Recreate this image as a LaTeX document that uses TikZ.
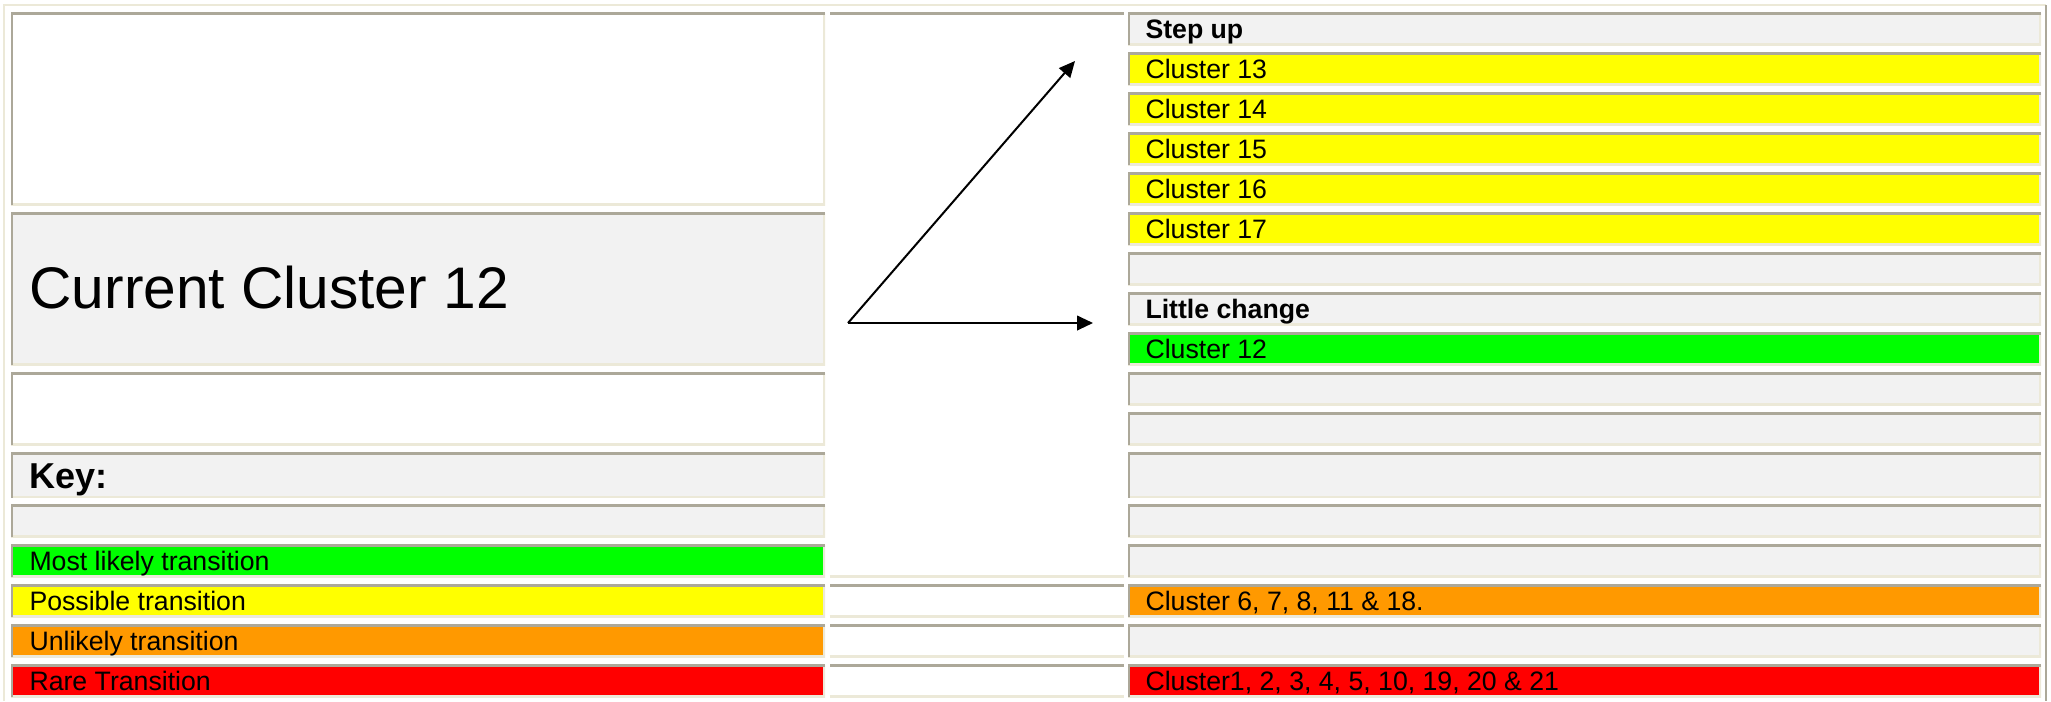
\documentclass[tikz,border=0pt]{standalone}
\usepackage{fontspec}
\setmainfont{Liberation Sans}
\usetikzlibrary{arrows.meta}

\definecolor{edgedark}{RGB}{172,168,153}
\definecolor{edgelight}{RGB}{236,233,216}
\definecolor{cellgray}{RGB}{242,242,242}
\definecolor{likely}{RGB}{0,255,0}
\definecolor{possible}{RGB}{255,255,0}
\definecolor{unlikely}{RGB}{255,153,0}
\definecolor{rare}{RGB}{255,0,0}

\tikzset{every picture/.style={line width=0.75pt},
  cell/.style={fill=#1, path picture={
      \draw [edgelight, line width=3pt] (path picture bounding box.south west) -| (path picture bounding box.north east);
      \draw [edgedark, line width=3pt] (path picture bounding box.south west) |- (path picture bounding box.north east);}},
  cell/.default=white,
  midcell/.style={fill=white, path picture={
      \draw [edgelight, line width=3pt] (path picture bounding box.south west) -- (path picture bounding box.south east);
      \draw [edgedark, line width=3pt] (path picture bounding box.north west) -- (path picture bounding box.north east);}},
  lbl/.style={anchor=base west, inner sep=0pt, font=\fontsize{20pt}{24pt}\selectfont},
  flow/.style={line width=1.5pt, -{Triangle[length=12pt,width=11pt]}}}

\begin{document}
\begin{tikzpicture}[x=0.75pt,y=0.75pt,yscale=-1,xscale=1]
\useasboundingbox (0,0) rectangle (2051,701);

%Shape: Table frame
\draw [edgelight, line width=1.5pt] (4,701) -- (4,5) -- (2046,5) ;
\draw [edgedark, line width=1.5pt] (2046,5) -- (2046,701) ;

%Shape: Rectangle (left column)
\path [cell] (11,12.5) rectangle (825,205.2) ;
\path [cell=cellgray] (11,212.5) rectangle (825,365.2) ;
\path [cell] (11,372.5) rectangle (825,445.2) ;
\path [cell=cellgray] (11,452.5) rectangle (825,497.7) ;
\path [cell=cellgray] (11,504.5) rectangle (825,537.2) ;
\path [cell=likely] (11,544.5) rectangle (825,577.2) ;
\path [cell=possible] (11,584.5) rectangle (825,617.2) ;
\path [cell=unlikely] (11,624.5) rectangle (825,657.2) ;
\path [cell=rare] (11,664.5) rectangle (825,697.2) ;

%Shape: Rectangle (middle column)
\path [midcell] (829.5,12.5) rectangle (1124,577.2) ;
\path [midcell] (829.5,584.5) rectangle (1124,617.2) ;
\path [midcell] (829.5,624.5) rectangle (1124,657.2) ;
\path [midcell] (829.5,664.5) rectangle (1124,697.2) ;

%Shape: Rectangle (right column)
\path [cell=cellgray] (1128,12.5) rectangle (2041,45.2) ;
\path [cell=possible] (1128,52.5) rectangle (2041,85.2) ;
\path [cell=possible] (1128,92.5) rectangle (2041,125.2) ;
\path [cell=possible] (1128,132.5) rectangle (2041,165.2) ;
\path [cell=possible] (1128,172.5) rectangle (2041,205.2) ;
\path [cell=possible] (1128,212.5) rectangle (2041,245.2) ;
\path [cell=cellgray] (1128,252.5) rectangle (2041,285.2) ;
\path [cell=cellgray] (1128,292.5) rectangle (2041,325.2) ;
\path [cell=likely] (1128,332.5) rectangle (2041,365.2) ;
\path [cell=cellgray] (1128,372.5) rectangle (2041,405.2) ;
\path [cell=cellgray] (1128,412.5) rectangle (2041,445.2) ;
\path [cell=cellgray] (1128,452.5) rectangle (2041,497.7) ;
\path [cell=cellgray] (1128,504.5) rectangle (2041,537.2) ;
\path [cell=cellgray] (1128,544.5) rectangle (2041,577.2) ;
\path [cell=unlikely] (1128,584.5) rectangle (2041,617.2) ;
\path [cell=cellgray] (1128,624.5) rectangle (2041,657.2) ;
\path [cell=rare] (1128,664.5) rectangle (2041,697.2) ;

%Straight Lines
\coordinate (fork) at (848,323) ;
\coordinate (upend) at (1075,61) ;
\coordinate (chgend) at (1093,323) ;
\draw [flow] (fork) -- (upend) ;
\draw [flow] (fork) -- (chgend) ;

% Text Node
\draw (29,308) node [lbl, font=\fontsize{44pt}{52pt}\selectfont] (current) {Current Cluster 12};
% Text Node
\draw (29,488.3) node [lbl, font=\fontsize{27pt}{32pt}\selectfont\bfseries] (key) {Key:};
% Text Node
\draw (29,570.8) node [lbl] (mostlikely) {Most likely transition};
% Text Node
\draw (29,610.8) node [lbl] (possible) {Possible transition};
% Text Node
\draw (29,650.8) node [lbl] (unlikely) {Unlikely transition};
% Text Node
\draw (29,690.8) node [lbl] (rare) {Rare Transition};
% Text Node
\draw (1145,38.8) node [lbl, font=\fontsize{20pt}{24pt}\selectfont\bfseries] (stepup) {Step up};
% Text Node
\draw (1145,78.8) node [lbl] (c13) {Cluster 13};
% Text Node
\draw (1145,118.8) node [lbl] (c14) {Cluster 14};
% Text Node
\draw (1145,158.8) node [lbl] (c15) {Cluster 15};
% Text Node
\draw (1145,198.8) node [lbl] (c16) {Cluster 16};
% Text Node
\draw (1145,238.8) node [lbl] (c17) {Cluster 17};
% Text Node
\draw (1145,318.8) node [lbl, font=\fontsize{20pt}{24pt}\selectfont\bfseries] (little) {Little change};
% Text Node
\draw (1145,358.8) node [lbl] (c12) {Cluster 12};
% Text Node
\draw (1145,610.8) node [lbl] (cunlikely) {Cluster 6, 7, 8, 11 \& 18.};
% Text Node
\draw (1145,690.8) node [lbl] (crare) {Cluster1, 2, 3, 4, 5, 10, 19, 20 \& 21};

\end{tikzpicture}
\end{document}
